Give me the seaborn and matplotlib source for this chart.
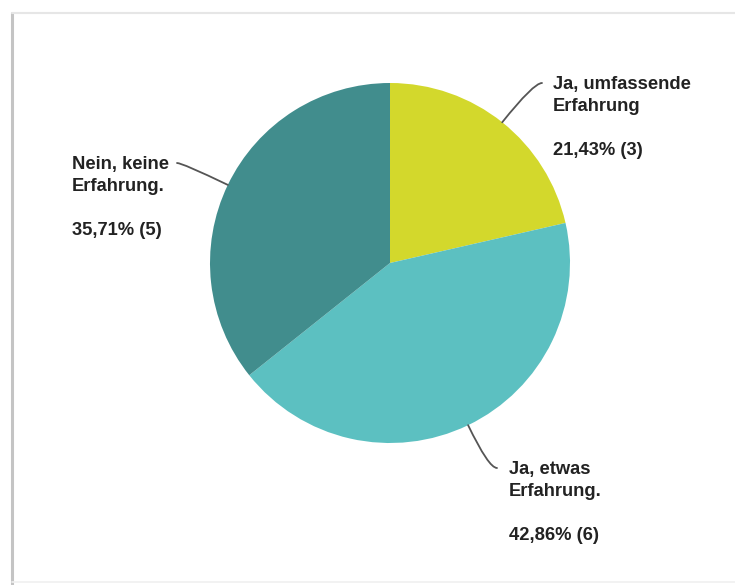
import numpy as np
import matplotlib
matplotlib.use("Agg")
import matplotlib.pyplot as plt
from matplotlib.lines import Line2D
import seaborn as sns

# Survey answers: experience levels, counts and shares
categories = ["Ja, umfassende\nErfahrung", "Ja, etwas\nErfahrung.", "Nein, keine\nErfahrung."]
counts = [3, 6, 5]
percent_labels = ["21,43%", "42,86%", "35,71%"]
colors = ["#d3d82c", "#5cc0c1", "#418d8d"]

sns.set_theme(style="white")
plt.rcParams["font.family"] = ["Liberation Sans", "DejaVu Sans"]

W, H = 735, 585
fig = plt.figure(figsize=(W / 100, H / 100), dpi=100)
fig.patch.set_facecolor("white")
ax = fig.add_axes([0, 0, 1, 1])

cx, cy, r = 390, H - 263, 180
wedges, _ = ax.pie(counts, colors=colors, startangle=90, counterclock=False,
                   center=(cx, cy), radius=r, frame=True,
                   wedgeprops=dict(linewidth=0))
ax.set_xlim(0, W)
ax.set_ylim(0, H)
ax.set_aspect("equal")
ax.axis("off")

# label placement: (leader end x, leader end y, text left x)
label_layout = [
    (542, H - 83, 553),
    (497, H - 468, 509),
    (177, H - 163, 72),
]

for w, cat, n, pct, (lx, ly, tx) in zip(wedges, categories, counts,
                                         percent_labels, label_layout):
    mid = np.deg2rad((w.theta1 + w.theta2) / 2)
    ex, ey = cx + r * np.cos(mid), cy + r * np.sin(mid)
    ang = np.rad2deg(mid)
    ax.annotate("", xy=(ex, ey), xytext=(lx, ly),
                arrowprops=dict(arrowstyle="-", color="#555555", lw=1.3,
                                shrinkA=0, shrinkB=0,
                                connectionstyle=f"angle3,angleA=0,angleB={ang:.1f}"))
    ax.text(tx, ly + 7, f"{cat}\n\n{pct} ({n})", ha="left", va="top",
            fontsize=13.2, fontweight="bold", color="#222222", linespacing=1.38)

# page frame edges
fig.add_artist(Line2D([12 / W, 12 / W], [0, 1 - 13 / H], color="#c4c4c4", lw=2.2,
                      transform=fig.transFigure))
fig.add_artist(Line2D([12 / W, 1], [1 - 13 / H, 1 - 13 / H], color="#e6e6e6", lw=1.5,
                      transform=fig.transFigure))
fig.add_artist(Line2D([12 / W, 1], [3 / H, 3 / H], color="#f0f0f0", lw=1.2,
                      transform=fig.transFigure))

fig.savefig("out.png", dpi=100, facecolor="white")
